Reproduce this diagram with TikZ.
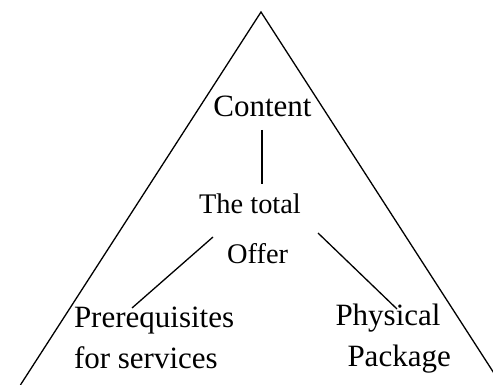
\documentclass[tikz,border=0pt]{standalone}
\usepackage{fontspec}
\setmainfont{Liberation Serif}
\begin{document}
\begin{tikzpicture}[x=0.5pt,y=-0.5pt,
  label/.style={inner sep=0pt,outer sep=0pt,font=\fontsize{15.5}{18}\selectfont},
  smalllabel/.style={inner sep=0pt,outer sep=0pt,font=\fontsize{14.2}{17}\selectfont},
  link/.style={line width=0.65pt,line cap=butt}]
  % canvas
  \useasboundingbox (0,0) rectangle (493,385);
  \clip (0,0) rectangle (493,385);

  % outer pyramid
  \coordinate (apex) at (261,12);
  \coordinate (baseL) at (20.4,385);
  \coordinate (baseR) at (501.6,385);
  \draw[link] (baseL) -- (apex) -- (baseR);

  % labels
  \node[label,anchor=base] (content) at (262.5,117) {Content};
  \node[smalllabel,anchor=base] (total) at (250,213.3) {The total};
  \node[smalllabel,anchor=base] (offer) at (257.7,263.5) {Offer};
  \node[label,anchor=base west] (pre1) at (74,327) {Prerequisites};
  \node[label,anchor=base west] (pre2) at (74,368.5) {for services};
  \node[label,anchor=base west] (phys1) at (335.5,325) {Physical};
  \node[label,anchor=base west] (phys2) at (347.5,366) {Package};

  % connector end points
  \coordinate (contentEnd) at (262,130);
  \coordinate (totalTop) at (262,184);
  \coordinate (offerLeft) at (213,237);
  \coordinate (preTop) at (132,308);
  \coordinate (offerRight) at (318,233);
  \coordinate (physTop) at (397,309);

  % connectors
  \draw[link] (contentEnd) -- (totalTop);
  \draw[link] (offerLeft) -- (preTop);
  \draw[link] (offerRight) -- (physTop);
\end{tikzpicture}
\end{document}
